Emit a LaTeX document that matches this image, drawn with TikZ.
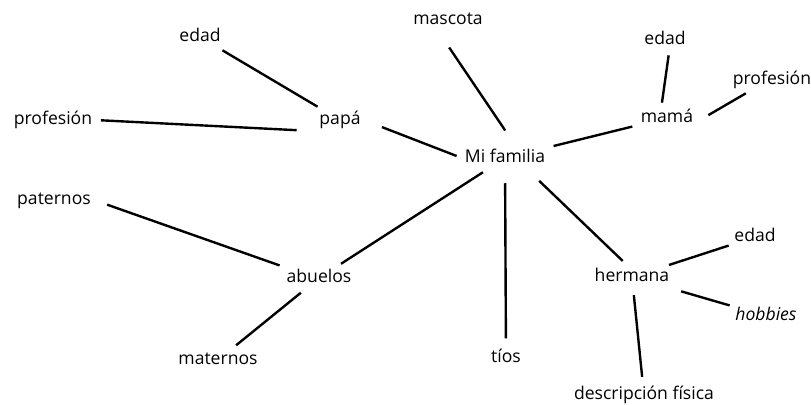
\documentclass[tikz,border=0pt]{standalone}
\usepackage{fontspec}
\setmainfont{Open Sans}
\usepackage{tikz}
\tikzset{
  topic/.style={inner sep=2pt, text height=9pt, text depth=2.5pt, font=\fontsize{12.5}{15}\selectfont},
  link/.style={line width=1.7pt, shorten <=#1, shorten >=#1}
}

\begin{document}
\begin{tikzpicture}[x=0.025cm,y=-0.025cm]
                \useasboundingbox (0,0) rectangle (811,404);

                %centre of the map, define nodes first
                \node (fam) at (505,158) [topic]{Mi familia};
                \node (mascota) at (448,20) [topic]{mascota};
                \node (tios) at (506,358) [topic]{tíos};

                %father and his branches
                \node (papa) at (340,120) [topic]{papá};
                \node (edadP) at (200,37) [topic]{edad};
                \node (profP) at (53,120) [topic]{profesión};

                %mother and her branches
                \node (mama) at (667,118) [topic]{mamá};
                \node (edadM) at (665,40) [topic]{edad};
                \node (profM) at (772,80) [topic]{profesión};

                %grandparents
                \node (abuelos) at (319,278) [topic]{abuelos};
                \node (paternos) at (54,200) [topic]{paternos};
                \node (maternos) at (218,360) [topic]{maternos};

                %sister
                \node (hermana) at (632,277) [topic]{hermana};
                \node (edadH) at (755,237) [topic]{edad};
                \node (hobbies) at (766,316) [topic]{\itshape hobbies};
                \node (desc) at (644,395) [topic]{descripción física};

                %lines out of the centre
                \draw[link=14pt] ([xshift=-7pt]mascota.south) -- ([xshift=8pt]fam.north);
                \draw[link=4pt, shorten <=14pt] (papa.east) -- (fam.west);
                \draw[link=4pt] (fam) -- (mama);
                \draw[link=4pt] (fam) -- (abuelos);
                \draw[link=6pt, shorten <=10pt] (fam) -- (tios);
                \draw[link=5pt, shorten <=12pt] ([xshift=-15pt]fam.south east) -- ([xshift=-3pt]hermana.north);

                %branches of papá
                \draw[link=3pt] (edadP) -- (papa);
                \draw[link=4pt, shorten >=14pt] (profP.east) -- (papa.south west);

                %branches of mamá
                \draw[link=3pt] ([xshift=-4pt]mama.north) -- ([xshift=3pt]edadM.south);
                \draw[link=3pt, shorten <=10pt] ([yshift=-3pt]mama.east) -- ([xshift=14pt]profM.south west);

                %branches of abuelos
                \draw[link=3pt, shorten <=10pt] (paternos.east) -- (abuelos.north west);
                \draw[link=4pt] (abuelos) -- (maternos);

                %branches of hermana
                \draw[link=2pt] (hermana) -- (edadH);
                \draw[link=2pt, shorten <=8pt] (hermana) -- (hobbies);
                \draw[link=5pt] (hermana) -- (desc);
\end{tikzpicture}
\end{document}
